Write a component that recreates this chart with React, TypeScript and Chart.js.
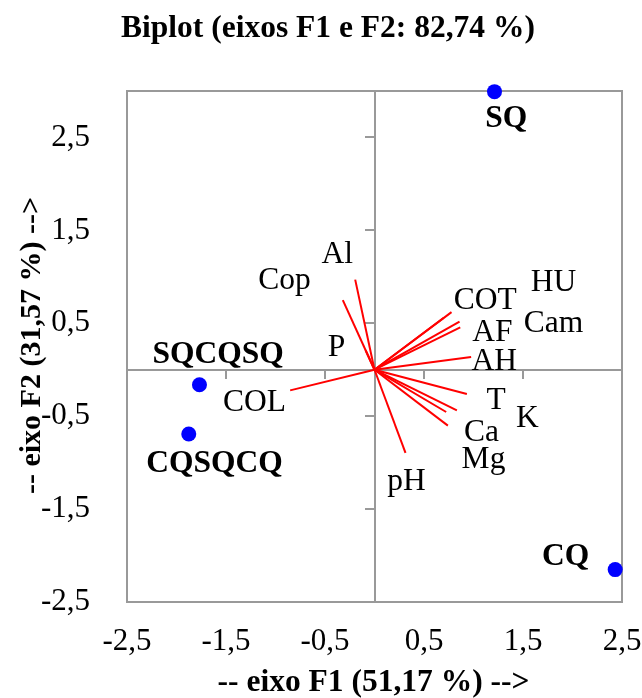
import React, { useEffect, useRef } from 'react';
import { Chart, registerables } from 'chart.js';

Chart.register(...registerables);

// ---- data ----
const chartTitle = 'Biplot (eixos F1 e F2: 82,74 %)';
const xAxisTitle = '-- eixo F1 (51,17 %) -->';
const yAxisTitle = '-- eixo F2 (31,57 %) -->';

const xTicks = [-2.5, -1.5, -0.5, 0.5, 1.5, 2.5];
const yTicks = [-2.5, -1.5, -0.5, 0.5, 1.5, 2.5];
const xRange = [-2.5, 2.5];
const yRange = [-2.5, 3.0];

// observations (active points)
const obsNames = ['SQ', 'CQ', 'SQCQSQ', 'CQSQCQ'];
const obsF1 = [1.212, 2.431, -1.768, -1.876];
const obsF2 = [2.993, -2.151, -0.161, -0.692];
const obsLabelF1 = [1.33, 1.93, -1.58, -1.616];
const obsLabelF2 = [2.72, -1.99, 0.185, -0.99];

// variables (vectors)
const varNames = ['Al', 'Cop', 'P', 'COL', 'COT', 'HU', 'AF', 'Cam', 'AH', 'T', 'K', 'Ca', 'Mg', 'pH'];
const varF1 = [-0.195, -0.32, -0.09, -0.852, 0.778, 0.7, 0.859, 0.866, 0.976, 0.933, 0.832, 0.724, 0.741, 0.313];
const varF2 = [0.97, 0.75, 0.21, -0.222, 0.62, 0.56, 0.519, 0.455, 0.136, -0.261, -0.437, -0.455, -0.602, -0.896];
const varLabelF1 = [-0.376, -0.91, -0.384, -1.212, 1.118, 1.808, 1.192, 1.808, 1.209, 1.229, 1.545, 1.081, 1.101, 0.323];
const varLabelF2 = [1.263, 0.98, 0.258, -0.33, 0.763, 0.957, 0.419, 0.516, 0.108, -0.317, -0.505, -0.656, -0.952, -1.183];

const FONT = '"Liberation Serif", "Times New Roman", serif';
const GRAY = '#999999';
const LABEL_DY = 2;

const fmt = (v: number) => v.toFixed(1).replace('.', ',');

const textPlugin = {
  id: 'biplotText',
  afterDatasetsDraw(chart: any) {
    const { ctx, chartArea } = chart;
    const x = chart.scales.x;
    const y = chart.scales.y;
    ctx.save();
    ctx.fillStyle = '#000000';
    ctx.textAlign = 'center';
    ctx.textBaseline = 'middle';
    ctx.font = `31.5px ${FONT}`;
    varNames.forEach((n, i) => {
      ctx.fillText(n, x.getPixelForValue(varLabelF1[i]), y.getPixelForValue(varLabelF2[i]) + LABEL_DY);
    });
    ctx.font = `bold 31.5px ${FONT}`;
    obsNames.forEach((n, i) => {
      ctx.fillText(n, x.getPixelForValue(obsLabelF1[i]), y.getPixelForValue(obsLabelF2[i]) + LABEL_DY);
    });
    // titles
    ctx.font = `bold 31.5px ${FONT}`;
    ctx.fillText(chartTitle, chart.width / 2 + 7, 29);
    ctx.font = `bold 31.5px ${FONT}`;
    ctx.fillText(xAxisTitle, (chartArea.left + chartArea.right) / 2 - 1, chartArea.bottom + 81);
    ctx.font = `bold 30px ${FONT}`;
    ctx.translate(32, (chartArea.top + chartArea.bottom) / 2 - 1);
    ctx.rotate(-Math.PI / 2);
    ctx.fillText(yAxisTitle, 0, 0);
    ctx.restore();
  },
};

export default function App() {
  const ref = useRef<HTMLCanvasElement>(null);

  useEffect(() => {
    document.body.style.margin = '0';
    if (!ref.current) return;

    const vectorSets = varNames.map((n, i) => ({
      type: 'scatter' as const,
      label: n,
      data: [
        { x: 0, y: 0 },
        { x: varF1[i], y: varF2[i] },
      ],
      showLine: true,
      borderColor: '#ff0000',
      borderWidth: 2,
      pointRadius: 0,
      xAxisID: 'x',
      yAxisID: 'y',
    }));

    const obsSet = {
      type: 'scatter' as const,
      label: 'obs',
      data: obsNames.map((_, i) => ({ x: obsF1[i], y: obsF2[i] })),
      backgroundColor: '#0000ff',
      borderColor: '#0000ff',
      borderWidth: 0,
      pointRadius: 7.5,
      clip: false as any,
      xAxisID: 'x',
      yAxisID: 'y',
    };

    const setTicks = (vals: number[]) => (scale: any) => {
      scale.ticks = vals.map((v) => ({ value: v }));
    };

    const noPad = (s: any) => {
      s.paddingLeft = 0;
      s.paddingRight = 0;
      s.paddingTop = 0;
      s.paddingBottom = 0;
    };

    const chart = new Chart(ref.current, {
      type: 'scatter',
      data: { datasets: [...vectorSets, obsSet] as any },
      options: {
        responsive: false,
        animation: false,
        events: [],
        layout: { padding: { left: 0, top: 91, right: 20, bottom: 0 } },
        plugins: {
          legend: { display: false },
          tooltip: { enabled: false },
          title: { display: false },
        },
        scales: {
          x: {
            type: 'linear',
            position: 'bottom',
            min: xRange[0],
            max: xRange[1],
            afterBuildTicks: setTicks(xTicks),
            afterFit: (s: any) => {
              s.height = 96;
              noPad(s);
            },
            grid: { display: false, drawTicks: false },
            border: { display: true, color: GRAY, width: 2 },
            ticks: {
              padding: 21,
              color: '#000',
              font: { family: FONT, size: 31 },
              maxRotation: 0,
              callback: (v: any) => fmt(Number(v)),
            },
          },
          y: {
            type: 'linear',
            position: 'left',
            min: yRange[0],
            max: yRange[1],
            afterBuildTicks: setTicks(yTicks),
            afterFit: (s: any) => {
              s.width = 127;
              noPad(s);
            },
            grid: { display: false, drawTicks: false },
            border: { display: true, color: GRAY, width: 2 },
            ticks: {
              padding: 37,
              color: '#000',
              font: { family: FONT, size: 31 },
              callback: (v: any) => fmt(Number(v)),
            },
          },
          xTop: {
            type: 'linear',
            axis: 'x',
            position: 'top',
            min: xRange[0],
            max: xRange[1],
            afterFit: (s: any) => {
              s.height = 0;
              noPad(s);
            },
            grid: { display: false },
            border: { display: true, color: GRAY, width: 2 },
            ticks: { display: false },
          },
          yRight: {
            type: 'linear',
            axis: 'y',
            position: 'right',
            min: yRange[0],
            max: yRange[1],
            afterFit: (s: any) => {
              s.width = 0;
              noPad(s);
            },
            grid: { display: false },
            border: { display: true, color: GRAY, width: 2 },
            ticks: { display: false },
          },
          xCenter: {
            type: 'linear',
            axis: 'x',
            position: { y: 0 } as any,
            min: xRange[0],
            max: xRange[1],
            afterBuildTicks: setTicks(xTicks),
            afterFit: noPad,
            grid: {
              display: true,
              drawOnChartArea: false,
              drawTicks: true,
              tickLength: 8,
              color: GRAY,
              lineWidth: 2,
            },
            border: { display: true, color: GRAY, width: 2 },
            ticks: { display: false },
          },
          yCenter: {
            type: 'linear',
            axis: 'y',
            position: { x: 0 } as any,
            min: yRange[0],
            max: yRange[1],
            afterBuildTicks: setTicks(yTicks),
            afterFit: noPad,
            grid: {
              display: true,
              drawOnChartArea: false,
              drawTicks: true,
              tickLength: 9,
              color: GRAY,
              lineWidth: 2,
            },
            border: { display: true, color: GRAY, width: 2 },
            ticks: { display: false },
          },
        } as any,
      },
      plugins: [textPlugin],
    });

    return () => chart.destroy();
  }, []);

  return (
    <div style={{ position: 'absolute', left: 0, top: 0, width: 642, height: 698, background: '#fff' }}>
      <canvas ref={ref} width={642} height={698} style={{ display: 'block', width: 642, height: 698 }} />
    </div>
  );
}
